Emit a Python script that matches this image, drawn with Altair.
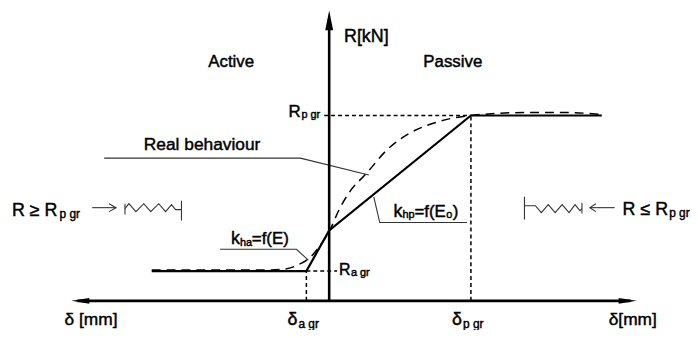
import altair as alt
import pandas as pd

# Coordinate frame: u = displacement (0 on the R axis), v = force (0 on the δ axis)
U_MIN, U_MAX = -324, 364
V_MIN, V_MAX = -28, 294

R_pgr, R_agr = 187, 30
d_pgr, d_agr = 143, -23

# idealised bilinear law
bilinear_u = [-179, d_agr, 0, d_pgr, 275]
bilinear_v = [R_agr, R_agr, 71, R_pgr, R_pgr]

# real behaviour (dashed)
real_u = [-179, -120, -70, -45, -32, -19, -7, 1, 10, 20, 38, 58, 81, 108, 128, 143, 168, 198, 238, 275]
real_v = [31, 31, 31, 32, 36, 44, 59, 72, 92, 109, 129, 152, 169, 180, 185, 187, 189, 190, 190, 188]

# axes
axis_segs = {
    "vert": ([0, 0], [0, 284]),
    "horiz": ([-254, 304], [0, 0]),
}
arrow_u = [0, -251, 301]
arrow_v = [283, 0, 0]
arrow_shape = ["M-0.4,1L0,-1L0.4,1Z", "M1,-0.33L-1,0L1,0.33Z", "M-1,-0.33L1,0L-1,0.33Z"]
arrow_size = [400, 324, 324]

# dashed guides
guide_segs = {
    "Rp": ([-5, d_pgr], [R_pgr, R_pgr]),
    "Ra": ([d_agr, 8], [R_agr, R_agr]),
    "da": ([d_agr, d_agr], [0, R_agr]),
    "dp": ([d_pgr, d_pgr], [0, R_pgr]),
}

# leader lines
leader_segs = {
    "real": ([-227, -29, 40], [144, 144, 127]),
    "kha": ([-110, -33, -21], [52, 52, 41]),
    "khp": ([45, 51, 139], [105, 79, 79]),
}

# springs and load arrows
spring_segs = {
    "l_arrow": ([-239, -215], [94, 94]),
    "l_head": ([-222, -215, -222], [98, 94, 90]),
    "l_tick": ([-206, -206], [98, 87]),
    "l_zig": ([-206, -202, -195, -187, -180, -172, -165, -159, -155, -149],
              [93, 98, 90, 98, 90, 98, 90, 97, 92, 92]),
    "l_bar": ([-149, -149], [81, 101]),
    "r_bar": ([197, 197], [82, 105]),
    "r_zig": ([197, 208, 214, 221, 228, 235, 242, 248, 253, 255],
              [96, 96, 89, 97, 89, 97, 89, 97, 91, 93]),
    "r_tick": ([255, 255], [99, 88]),
    "r_arrow": ([263, 288], [94, 94]),
    "r_head": ([269, 263, 269], [98, 94, 90]),
}

# text labels
label_text = ["R[kN]", "Active", "Passive",
              "R", "p gr", "R", "a gr",
              "Real behaviour",
              "k", "ha", "=f(E)",
              "k", "hp", "=f(E₀)",
              "δ [mm]", "δ", "a gr", "δ", "p gr", "δ[mm]",
              "R ≥ R", "p gr", "R ≤ R", "p gr"]
label_u = [15, -122, 95,
           -41, -28, 10, 22,
           -187,
           -99, -90, -78,
           65, 74, 86,
           -267, -42, -31, 124, 135, 282,
           -320, -272, 296, 343]
label_v = [266, 241, 241,
           190, 187, 31, 28,
           157,
           62, 58, 62,
           90, 87, 90,
           -19, -19, -23, -19, -23, -19,
           91, 88, 92, 89]
label_size = [18, 17, 17,
              17, 11, 16, 11,
              17.5,
              18, 11, 17,
              18, 11, 17,
              17.5, 18, 12, 18, 12, 17.5,
              18, 12, 18, 12]

FONT = "Liberation Sans, Arial"

xs = alt.Scale(domain=[U_MIN, U_MAX], nice=False, zero=False)
ys = alt.Scale(domain=[V_MIN, V_MAX], nice=False, zero=False)


def seg_df(segs):
    rows = []
    for name, (us, vs) in segs.items():
        for i, (a, b) in enumerate(zip(us, vs)):
            rows.append({"seg": name, "i": i, "u": a, "v": b})
    return pd.DataFrame(rows)


def lines(df, **mk):
    return alt.Chart(df).mark_line(**mk).encode(
        x=alt.X("u:Q", scale=xs, axis=None),
        y=alt.Y("v:Q", scale=ys, axis=None),
        detail="seg:N",
        order="i:Q",
    )


axes = lines(seg_df(axis_segs), color="black", strokeWidth=2.6)
arrows = alt.Chart(pd.DataFrame({"u": arrow_u, "v": arrow_v, "shape": arrow_shape, "size": arrow_size})).mark_point(
    filled=True, color="black", opacity=1, strokeWidth=0
).encode(
    x=alt.X("u:Q", scale=xs, axis=None),
    y=alt.Y("v:Q", scale=ys, axis=None),
    shape=alt.Shape("shape:N", scale=None),
    size=alt.Size("size:Q", scale=None),
)
guides = lines(seg_df(guide_segs), color="black", strokeWidth=1.5, strokeDash=[4, 3])
leaders = lines(seg_df(leader_segs), color="#333333", strokeWidth=1.1)
springs = lines(seg_df(spring_segs), color="#333333", strokeWidth=1.1)
bilinear = lines(seg_df({"b": (bilinear_u, bilinear_v)}), color="black", strokeWidth=2.2)
real = lines(seg_df({"r": (real_u, real_v)}), color="black", strokeWidth=1.5,
             strokeDash=[9, 6], interpolate="monotone")

labels = alt.Chart(pd.DataFrame({"u": label_u, "v": label_v, "t": label_text, "s": label_size})).mark_text(
    align="left", baseline="middle", font=FONT, fill="black", stroke="black", strokeWidth=0.45
).encode(
    x=alt.X("u:Q", scale=xs, axis=None),
    y=alt.Y("v:Q", scale=ys, axis=None),
    text="t:N",
    size=alt.Size("s:Q", scale=None),
)

chart = alt.layer(guides, leaders, springs, real, bilinear, axes, arrows, labels).properties(
    width=688, height=322, padding=0, autosize="none", background="white"
).configure_view(stroke=None)

chart.save("out.html", embed_options={"renderer": "svg", "actions": False})
